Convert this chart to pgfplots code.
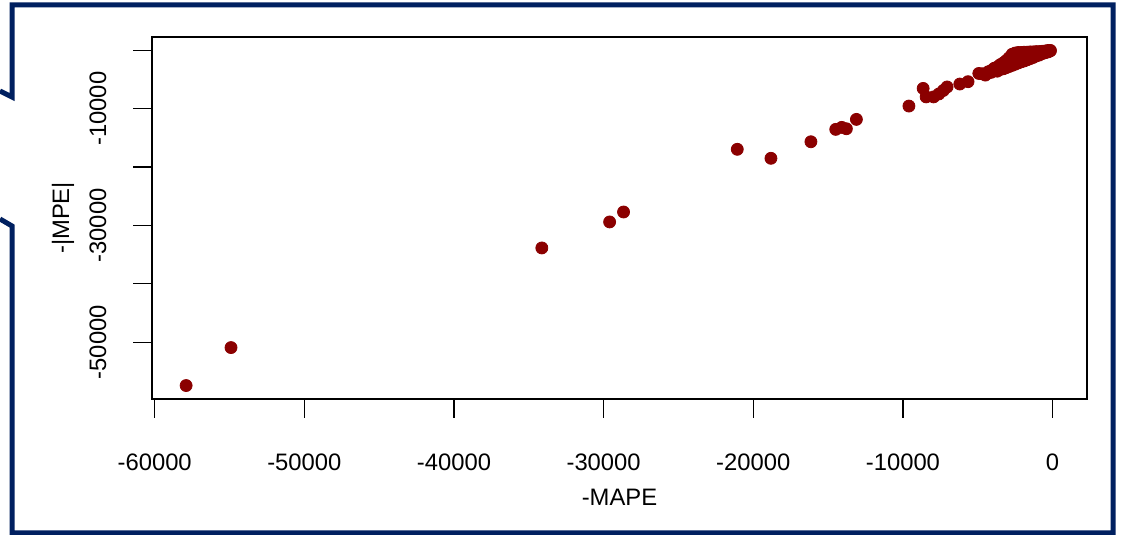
\documentclass[border=0pt]{standalone}
\usepackage{fontspec}
\setmainfont{Liberation Sans}
\usepackage{pgfplots}
\pgfplotsset{compat=1.18}
\definecolor{navy}{RGB}{0,32,96}
\definecolor{rdark}{RGB}{139,0,0}
\begin{document}
\fontsize{11.9}{14}\selectfont
\begin{tikzpicture}[x=0.5pt,y=0.5pt]
\useasboundingbox (0,0) rectangle (1121,535);
\fill[white] (0,0) rectangle (1121,535);
\draw[navy, line width=2.5pt, line join=miter] (0,444) -- (12,438) -- (12,530) -- (1113,530) -- (1113,2) -- (12,2) -- (12,309) -- (0,316);
\begin{axis}[at={(76pt,68pt)}, anchor=south west,
  width=467.5pt, height=181pt, scale only axis,
  xmin=-60180, xmax=2300, ymin=-59700, ymax=2250,
  scaled x ticks=false, scaled y ticks=false,
  axis line style={line width=0.6pt},
  tick align=outside, major tick length=9.5pt,
  tick style={black, line width=0.6pt},
  xtick pos=bottom, ytick pos=left,
  xtick={-60000,-50000,-40000,-30000,-20000,-10000,0},
  xticklabels={-60000,-50000,-40000,-30000,-20000,-10000,0},
  ytick={-50000,-40000,-30000,-20000,-10000,0},
  yticklabels={-50000,,-30000,,-10000,},
  xticklabel style={anchor=center, yshift=-22pt},
  yticklabel style={rotate=90, anchor=center, yshift=17.5pt},
  xlabel={-MAPE}, ylabel={-|MPE|},
  every axis x label/.style={at={(axis description cs:0.5,0)}, anchor=center, yshift=-49pt},
  every axis y label/.style={at={(axis description cs:0,0.5)}, xshift=-44.5pt, rotate=90, anchor=center},
  clip=false,
]
\addplot[only marks, mark=*, mark size=3pt, color=rdark, mark options={draw=rdark, fill=rdark}] coordinates {
(-57900,-57400) (-54900,-50900) (-34130,-33850) (-29600,-29400) (-28670,-27700)
(-21070,-16970) (-18820,-18510) (-16150,-15680) (-14490,-13560) (-14090,-13220)
(-13780,-13450) (-13110,-11850) (-9600,-9570)
(-8650,-6550) (-8450,-8000) (-7950,-8000) (-7600,-7500) (-7300,-6900) (-7050,-6300)
(-6200,-5800) (-5650,-5400)
(-4930,-3990) (-4490,-4270) (-4700,-4050)
(-4300,-3700) (-4300,-3900) (-4100,-3500) (-4100,-3800)
(-3900,-3100) (-3900,-3500) (-3700,-2900) (-3700,-3300) (-3700,-3600)
(-3500,-2500) (-3500,-2900) (-3500,-3300)
(-3300,-2200) (-3300,-2700) (-3300,-3200)
(-3100,-1800) (-3100,-2300) (-3100,-2800) (-3100,-3000)
(-2900,-1300) (-2900,-1800) (-2900,-2300) (-2900,-2800)
(-2700,-700) (-2700,-1200) (-2700,-1700) (-2700,-2200) (-2700,-2600)
(-2500,-500) (-2500,-1000) (-2500,-1500) (-2500,-2000) (-2500,-2400)
(-2300,-400) (-2300,-900) (-2300,-1400) (-2300,-1900) (-2300,-2200)
(-2100,-400) (-2100,-800) (-2100,-1200) (-2100,-1600) (-2100,-2000)
(-1900,-350) (-1900,-700) (-1900,-1100) (-1900,-1500) (-1900,-1850)
(-1700,-350) (-1700,-700) (-1700,-1000) (-1700,-1350) (-1700,-1650)
(-1500,-300) (-1500,-600) (-1500,-900) (-1500,-1200) (-1500,-1450)
(-1300,-300) (-1300,-550) (-1300,-800) (-1300,-1050) (-1300,-1250)
(-1100,-250) (-1100,-500) (-1100,-750) (-1100,-1000)
(-900,-250) (-900,-450) (-900,-650) (-900,-850)
(-700,-200) (-700,-400) (-700,-600)
(-500,-150) (-500,-300) (-500,-450)
(-300,-50) (-300,-200) (-300,-300)
(-150,-50) (-150,-120)
};
\end{axis}
\end{tikzpicture}
\end{document}
